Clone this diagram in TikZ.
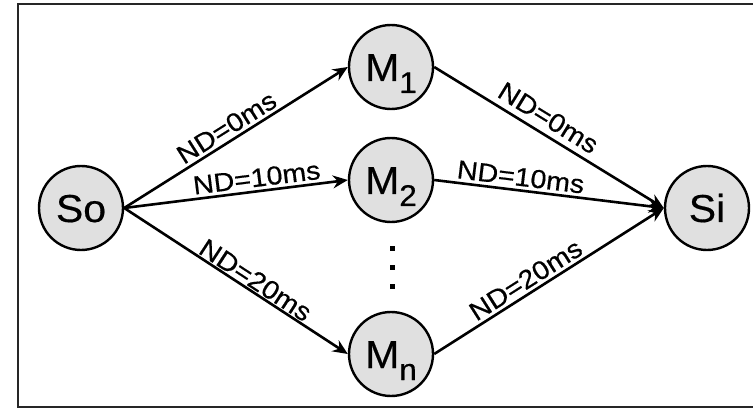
\documentclass[tikz,border=0pt]{standalone}
\usepackage{fontspec}
\setmainfont{Liberation Sans}
\newfontfamily\nodefont{Liberation Sans}[FakeStretch=1.05, FakeBold=0.4]
\newfontfamily\lblfont{Liberation Sans}[FakeStretch=1.1, FakeBold=0.5]
\usetikzlibrary{arrows.meta}
\definecolor{nodefill}{RGB}{224,224,224}
\tikzset{
  vertex/.style={circle, draw=black, line width=2.4pt, fill=nodefill, minimum size=84pt, inner sep=0pt,
    font=\nodefont\fontsize{39}{39}\selectfont, text height=28pt, text depth=0pt},
  link/.style={line width=2.6pt, -{Stealth[length=15pt,width=13pt,inset=5pt]}},
  lbl/.style={sloped, above, inner sep=3pt, font=\lblfont\fontsize{26}{26}\selectfont},
  dot/.style={fill=black, minimum size=5pt, inner sep=0pt}
}
\newcommand{\subn}[1]{\raisebox{-12pt}{\fontsize{30}{30}\selectfont #1}}
\begin{document}
\begin{tikzpicture}[x=1pt, y=-1pt]
\useasboundingbox (0,0) rectangle (753,409);
\draw[line width=1.8pt, draw=black!85] (760,4) -- (18,4) -- (18,407) -- (760,407);
\node[vertex] (So) at (81,208) {So};
\node[vertex] (M1) at (391,67) {M\subn{1}};
\node[vertex] (M2) at (391,180) {M\subn{2}};
\node[vertex] (Mn) at (391,354) {M\subn{n}};
\node[vertex] (Si) at (707,208) {Si};
\node[dot] (d1) at (392,248) {};
\node[dot] (d2) at (392,267) {};
\node[dot] (d3) at (392,286) {};
\draw[link] (So.east) -- node[lbl, pos=0.49] {ND=0ms} (M1.west);
\draw[link] (So.east) -- node[lbl, pos=0.6] {ND=10ms} (M2.west);
\draw[link] (So.east) -- node[lbl, pos=0.56, inner sep=1pt] {ND=20ms} (Mn.west);
\draw[link] (M1.east) -- node[lbl, pos=0.46, inner sep=6pt] {ND=0ms} (Si.west);
\draw[link] (M2.east) -- node[lbl, pos=0.37] {ND=10ms} (Si.west);
\draw[link] (Mn.east) -- node[lbl, pos=0.43] {ND=20ms} (Si.west);
\end{tikzpicture}
\end{document}
